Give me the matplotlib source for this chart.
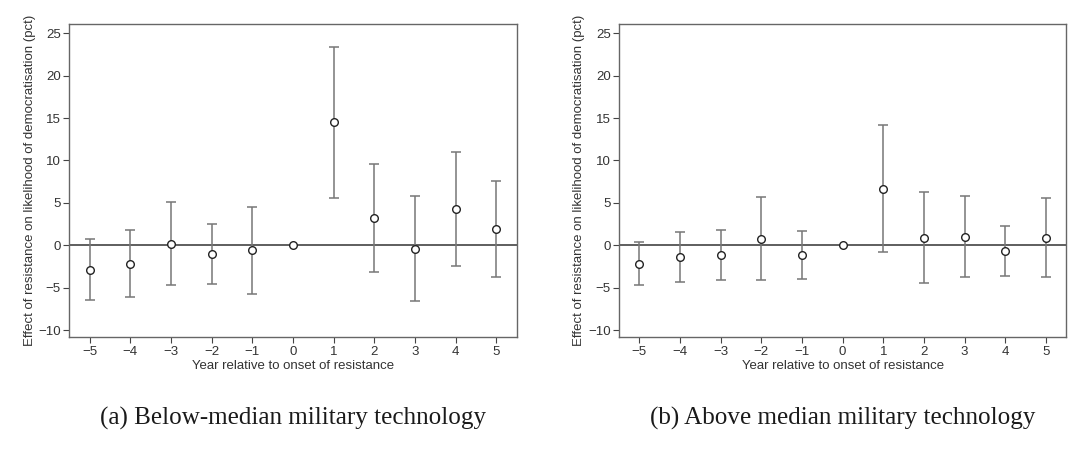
import matplotlib
matplotlib.use("Agg")
import matplotlib.pyplot as plt
import numpy as np

years = [-5, -4, -3, -2, -1, 0, 1, 2, 3, 4, 5]

below_est = [-2.87, -2.16, 0.20, -1.02, -0.59, 0.0, 14.50, 3.22, -0.39, 4.28, 1.89]
below_lo = [-6.49, -6.05, -4.72, -4.60, -5.74, 0.0, 5.62, -3.10, -6.56, -2.40, -3.70]
below_hi = [0.79, 1.77, 5.11, 2.56, 4.52, 0.0, 23.43, 9.59, 5.86, 11.00, 7.59]

above_est = [-2.20, -1.42, -1.14, 0.79, -1.18, 0.0, 6.64, 0.90, 0.98, -0.63, 0.90]
above_lo = [-4.72, -4.36, -4.13, -4.09, -3.93, 0.0, -0.79, -4.48, -3.77, -3.58, -3.70]
above_hi = [0.35, 1.61, 1.85, 5.74, 1.65, 0.0, 14.15, 6.33, 5.78, 2.28, 5.54]

yticks = [-10, -5, 0, 5, 10, 15, 20, 25]
captions = ["(a) Below-median military technology", "(b) Above median military technology"]
ylabel = "Effect of resistance on likelihood of democratisation (pct)"
xlabel = "Year relative to onset of resistance"

plt.rcParams['font.family'] = ['Liberation Sans', 'DejaVu Sans']

fig = plt.figure(figsize=(10.8, 4.49), dpi=100)

panels = [
    (below_est, below_lo, below_hi, 69.3 / 1080),
    (above_est, above_lo, above_hi, 619 / 1080),
]

for i, (est, lo, hi, x0) in enumerate(panels):
    ax = fig.add_axes([x0, 1 - 337.3 / 449, 447.2 / 1080, (337.3 - 24) / 449])
    est = np.array(est); lo = np.array(lo); hi = np.array(hi)
    x = np.array(years)
    mask = x != 0
    ax.axhline(0, color='#333333', lw=1.1, zorder=1)
    ax.errorbar(x[mask], est[mask], yerr=[est[mask] - lo[mask], hi[mask] - est[mask]],
                fmt='none', ecolor='#777777', elinewidth=1.1, capsize=3.5, capthick=1.1, zorder=2)
    ax.plot(x, est, 'o', ms=5.5, mfc='white', mec='#222222', mew=1.0, zorder=3)
    ax.set_xlim(-5.5, 5.5)
    ax.set_ylim(-10.86, 26.1)
    ax.set_xticks(years)
    ax.set_xticklabels([str(v).replace('-', '\u2212') for v in years])
    ax.set_yticks(yticks)
    ax.set_yticklabels([str(v).replace('-', '\u2212') for v in yticks])
    ax.tick_params(axis='both', labelsize=9.5, length=4, width=0.8, pad=2,
                   colors='#444444', labelcolor='#333333')
    for s in ax.spines.values():
        s.set_color('#666666')
        s.set_linewidth(1.0)
    ax.set_ylabel(ylabel, fontsize=9.5, color='#333333', labelpad=2)
    ax.set_xlabel(xlabel, fontsize=9.5, color='#333333', labelpad=1.5)
    cx = x0 + 447.2 / 1080 / 2
    fig.text(cx, 1 - 418 / 449, captions[i], ha='center', va='center',
             fontsize=18.1, family=['Liberation Serif', 'DejaVu Serif'], color='#1a1a1a')

fig.savefig('out.png', dpi=100)
